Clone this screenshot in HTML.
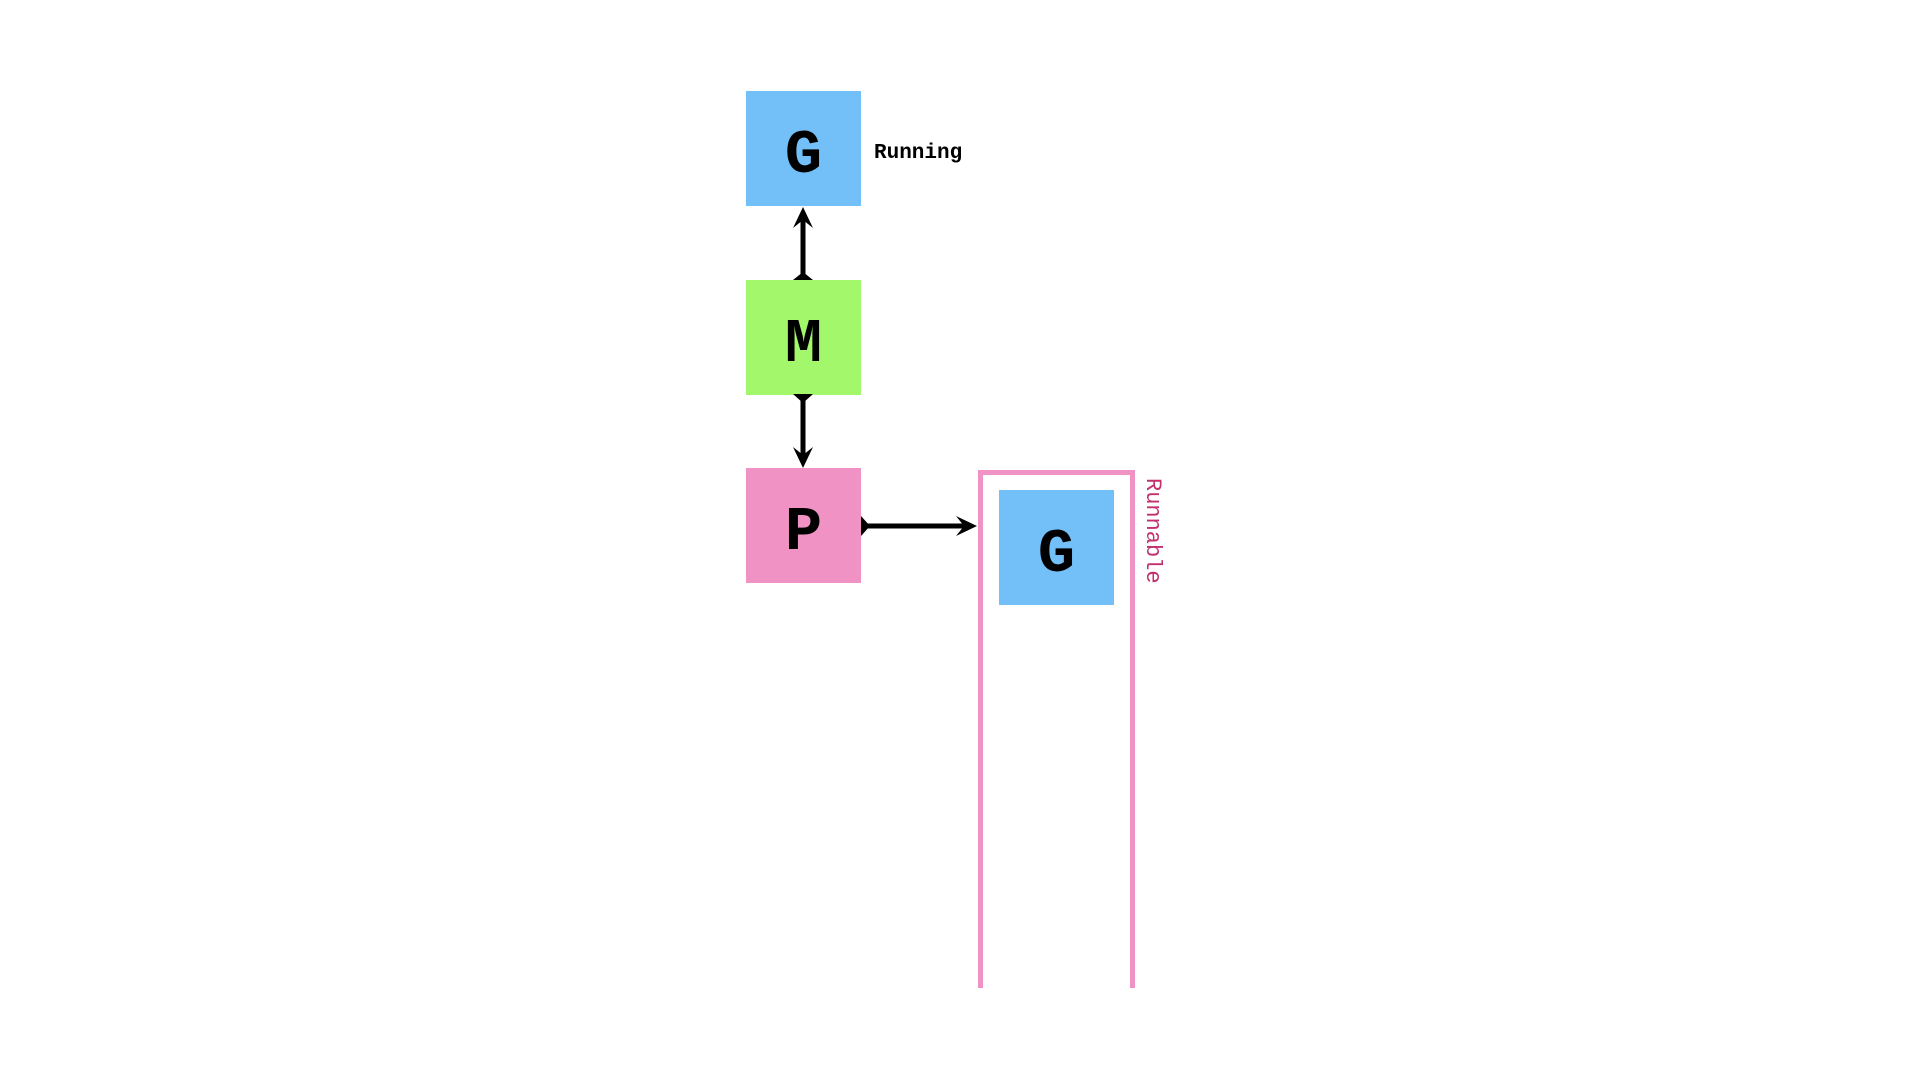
<!DOCTYPE html>
<html><head><meta charset="utf-8"><style>
body{margin:0;width:1920px;height:1080px;background:#fff;position:relative;overflow:hidden;font-family:"Liberation Mono",monospace}
.b{position:absolute;width:115px;height:115px;display:flex;align-items:center;justify-content:center;font-weight:bold;font-size:62px;color:#000;padding-top:14px;box-sizing:border-box}
</style></head><body>
<div class="b" style="left:746px;top:91px;background:#73bff8">G</div>
<div class="b" style="left:746px;top:280px;background:#a3f76a">M</div>
<div class="b" style="left:746px;top:468px;background:#f093c4">P</div>
<div style="position:absolute;left:978px;top:470px;width:147px;height:513px;border:5px solid #f093c4;border-bottom:none"></div>
<div class="b" style="left:999px;top:490px;background:#73bff8">G</div>
<div style="position:absolute;left:874px;top:142px;font-size:21px;font-weight:bold;color:#000">Running</div>
<div style="position:absolute;left:1140px;top:478px;font-size:22px;color:#c2306e;writing-mode:vertical-rl">Runnable</div>
<svg width="1920" height="1080" style="position:absolute;left:0;top:0">
<g stroke="#000" stroke-width="5" fill="none">
<line x1="803" y1="277" x2="803" y2="216"/>
<line x1="803" y1="396" x2="803" y2="458"/>
<line x1="863" y1="526" x2="966" y2="526"/>
</g>
<g fill="#000">
<path d="M803 207 L793 228 L803 220 L813 228Z"/>
<path d="M803 468 L793 447 L803 455 L813 447Z"/>
<path d="M977 526 L956 516 L964 526 L956 536Z"/>
<path d="M793 280 L803 272 L813 280Z"/>
<path d="M793 394 L803 403 L813 394Z"/>
<path d="M861 516 L870 526 L861 536Z"/>
</g>
</svg>
</body></html>
